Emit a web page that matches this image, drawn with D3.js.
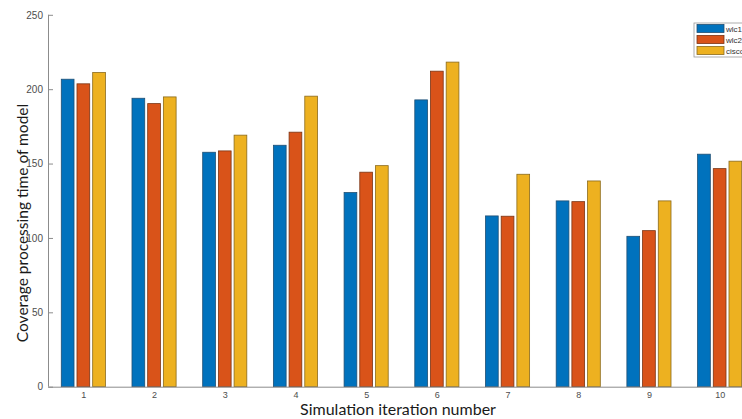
<!DOCTYPE html>
<html>
<head>
<meta charset="utf-8">
<script src="https://cdn.jsdelivr.net/npm/d3@7"></script>
<style>
  body { margin: 0; background: #fff; }
  svg { display: block; overflow: hidden; }
  .tick text { fill: #4d4d4d; font-family: "Liberation Sans", Arial, sans-serif; }
</style>
</head>
<body>
<svg id="svg" width="742" height="419"></svg>
<script>
const iterations = [1, 2, 3, 4, 5, 6, 7, 8, 9, 10];
const wlc1 = [206.7, 193.9, 157.6, 162.3, 130.5, 192.8, 114.8, 124.9, 101.1, 156.3];
const wlc2 = [203.6, 190.3, 158.5, 171.1, 144.2, 212.1, 114.6, 124.4, 104.9, 146.6];
const cisco = [211.2, 194.8, 169.1, 195.3, 148.6, 218.2, 142.8, 138.3, 124.9, 151.6];
const seriesNames = ["wlc1", "wlc2", "cisco"];
const yTicks = [0, 50, 100, 150, 200, 250];

let container = d3.select("#svg");
const seriesData = [wlc1, wlc2, cisco];
const colors = ["#0072BD", "#D95319", "#EDB120"];
const edges = ["#1f4f73", "#7a3414", "#8a6a1c"];

let xScale = d3.scaleLinear().domain([0.5, 10.5]).range([48, 755]);
let yScale = d3.scaleLinear().domain([0, 250]).range([386.7, 14.8]);
const unit = xScale(2) - xScale(1);
const offsets = [-0.222, 0, 0.222];
const barW = 0.18 * unit;

// axis titles (drawn first so tick labels sit on top)
container
  .append("text")
  .attr("transform", "translate(28,223) rotate(-90)")
  .attr("text-anchor", "middle")
  .attr("font-family", "Lato, 'Open Sans', sans-serif")
  .attr("font-size", 15.5)
  .attr("fill", "#1a1a1a")
  .text("Coverage processing time of model");

container
  .append("text")
  .attr("x", 398)
  .attr("y", 415)
  .attr("text-anchor", "middle")
  .attr("font-family", "Lato, 'Open Sans', sans-serif")
  .attr("font-size", 16)
  .attr("fill", "#1a1a1a")
  .text("Simulation iteration number");

// bars
seriesData.forEach((vals, s) => {
  container
    .append("g")
    .selectAll("rect")
    .data(vals)
    .enter()
    .append("rect")
    .attr("x", (d, i) => xScale(iterations[i] + offsets[s]) - barW / 2)
    .attr("y", (d) => yScale(d))
    .attr("width", barW)
    .attr("height", (d) => yScale(0) - yScale(d))
    .attr("fill", colors[s])
    .attr("stroke", edges[s])
    .attr("stroke-width", 0.8);
});

// y axis, ticks inside
let yAxis = container
  .append("g")
  .attr("transform", "translate(" + xScale(0.5) + ",0)")
  .call(d3.axisRight(yScale).tickValues(yTicks).tickSize(5).tickFormat(d3.format("d")));
yAxis.select(".domain").attr("stroke", "#8c8c8c").attr("d", "M0.5," + yScale(250) + "V" + yScale(0));
yAxis.selectAll(".tick line").attr("stroke", "#8c8c8c");
yAxis
  .selectAll(".tick text")
  .attr("x", -5)
  .attr("text-anchor", "end")
  .style("font-size", "10px");

// x axis
let xAxis = container
  .append("g")
  .attr("transform", "translate(0," + yScale(0) + ")")
  .call(d3.axisBottom(xScale).tickValues(iterations).tickSize(0).tickFormat(d3.format("d")));
xAxis.select(".domain").attr("stroke", "#8c8c8c");
xAxis.selectAll(".tick text").attr("y", 5).style("font-size", "9px");

// legend
let legendBox = container.append("g").attr("transform", "translate(694,23)");
legendBox
  .append("rect")
  .attr("width", 70)
  .attr("height", 34)
  .attr("fill", "#fff")
  .attr("stroke", "#999")
  .attr("stroke-width", 0.8);
var legend = legendBox
  .selectAll(".legend")
  .data(seriesNames)
  .enter()
  .append("g")
  .attr("class", "legend")
  .attr("transform", (d, i) => "translate(3," + (1.5 + i * 11) + ")");
legend
  .append("rect")
  .attr("width", 27)
  .attr("height", 8)
  .attr("fill", (d, i) => colors[i])
  .attr("stroke", (d, i) => edges[i])
  .attr("stroke-width", 0.8);
legend
  .append("text")
  .attr("x", 29)
  .attr("y", 7.5)
  .attr("font-family", "'Liberation Sans', Arial, sans-serif")
  .attr("font-size", 8)
  .attr("fill", "#333")
  .text((d) => d);
</script>
</body>
</html>
